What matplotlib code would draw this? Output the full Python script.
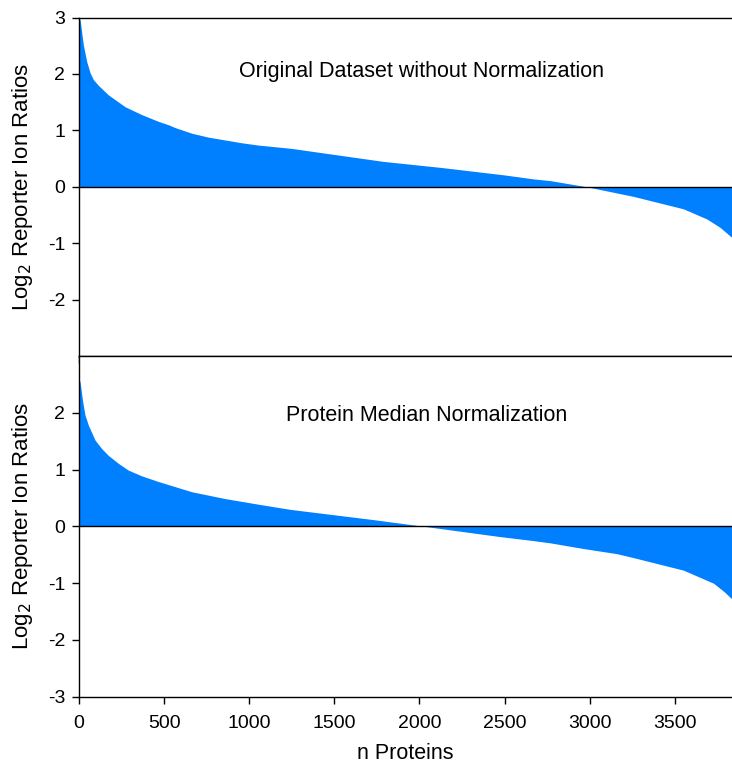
import matplotlib
matplotlib.use("Agg")
import matplotlib.pyplot as plt
import numpy as np

plt.rcParams['font.family'] = ['Liberation Sans', 'DejaVu Sans']
plt.rcParams['axes.unicode_minus'] = False

# Sorted log2 ratios (rank -> value)
top_rank = [0, 6, 25, 45, 65, 84, 113, 172, 270, 368, 466, 525, 564, 662, 760,
            858, 956, 1052, 1152, 1250, 1788, 2121, 2500, 2669, 2768, 2983,
            3257, 3550, 3688, 3766, 3836]
top_vals = [3.0, 2.96, 2.52, 2.22, 2.02, 1.90, 1.80, 1.63, 1.42, 1.28, 1.16,
            1.10, 1.05, 0.95, 0.88, 0.83, 0.78, 0.74, 0.71, 0.68, 0.45, 0.345,
            0.21, 0.14, 0.11, 0.0, -0.17, -0.39, -0.57, -0.72, -0.90]

bot_rank = [0, 6, 16, 25, 35, 55, 94, 133, 172, 231, 290, 368, 466, 564, 662,
            760, 858, 956, 1054, 1240, 1727, 2030, 2474, 2669, 2768, 2963, 3159,
            3257, 3550, 3727, 3790, 3836]
bot_vals = [2.6, 2.54, 2.31, 2.13, 1.96, 1.78, 1.52, 1.37, 1.25, 1.11, 0.99,
            0.89, 0.79, 0.70, 0.61, 0.55, 0.49, 0.44, 0.39, 0.30, 0.12, 0.0,
            -0.18, -0.25, -0.29, -0.39, -0.48, -0.55, -0.77, -1.0, -1.15, -1.28]

top_title = "Original Dataset without Normalization"
bot_title = "Protein Median Normalization"
x_ticks = [0, 500, 1000, 1500, 2000, 2500, 3000, 3500]
top_yticks = [-2, -1, 0, 1, 2, 3]
bot_yticks = [-3, -2, -1, 0, 1, 2]

color = '#0080ff'
fig = plt.figure(figsize=(7.32, 7.64), dpi=100)
ax1 = fig.add_axes([0.108, 0.534, 0.892, 0.443])
ax2 = fig.add_axes([0.108, 0.088, 0.892, 0.446])

for ax, r, v, title, yt, tx, ty in [(ax1, top_rank, top_vals, top_title, top_yticks, 2009, 2.04),
                                    (ax2, bot_rank, bot_vals, bot_title, bot_yticks, 2040, 1.95)]:
    ax.fill_between(r, 0, v, color=color, linewidth=0)
    ax.axhline(0, color='black', linewidth=1.0)
    ax.set_xlim(0, 3836)
    ax.set_ylim(-3, 3)
    ax.set_yticks(yt)
    ax.set_xticks(x_ticks)
    ax.spines['right'].set_visible(False)
    for s in ['left', 'bottom', 'top']:
        ax.spines[s].set_linewidth(1.0)
    ax.tick_params(direction='out', length=5, width=1, labelsize=14, pad=5)
    ax.set_ylabel(r'Log$_2$ Reporter Ion Ratios', fontsize=16, labelpad=9)
    ax.text(tx, ty, title, ha='center', va='center', fontsize=15.5)

ax1.tick_params(axis='x', labelbottom=False)
ax2.set_xlabel('n Proteins', fontsize=15.5, labelpad=8)
ax2.tick_params(axis='x', pad=8)

fig.savefig('out.png', dpi=100)
